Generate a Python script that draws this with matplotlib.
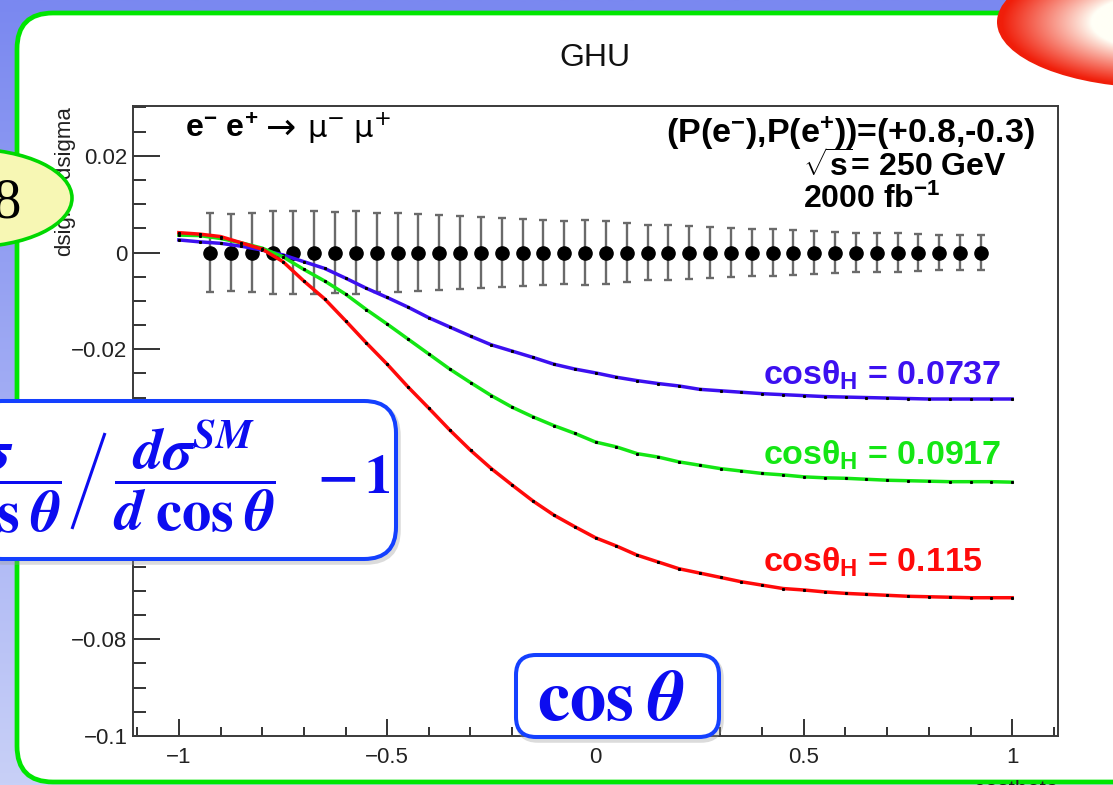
import numpy as np
import matplotlib
matplotlib.use('Agg')
import matplotlib.pyplot as plt
from matplotlib.patches import FancyBboxPatch, Ellipse
from matplotlib.ticker import MultipleLocator, FuncFormatter

plt.rcParams['font.family'] = ['Liberation Sans', 'DejaVu Sans']
plt.rcParams['mathtext.fontset'] = 'custom'
plt.rcParams['mathtext.rm'] = 'Liberation Sans:bold'
plt.rcParams['mathtext.it'] = 'Liberation Sans:bold'
plt.rcParams['mathtext.bf'] = 'Liberation Sans:bold'

# GHU predictions: (dsigma/dcos) / (dsigma^SM/dcos) - 1 on a cos(theta) grid
cos_grid = np.linspace(-1.0, 1.0, 41)
ghu_0737 = [0.0026, 0.0022, 0.0019, 0.0013, 0.0005, -0.0005, -0.0019, -0.0033, -0.0053, -0.0074,
            -0.0093, -0.0113, -0.0135, -0.0154, -0.0173, -0.0191, -0.0204, -0.0217, -0.0231, -0.0241,
            -0.0249, -0.0258, -0.0265, -0.0271, -0.0276, -0.0283, -0.0286, -0.0289, -0.0292, -0.0294,
            -0.0296, -0.0298, -0.0299, -0.0300, -0.0301, -0.0302, -0.0303, -0.0303, -0.0303, -0.0303,
            -0.0303]
ghu_0917 = [0.0036, 0.0035, 0.0029, 0.0020, 0.0009, -0.0009, -0.0035, -0.0059, -0.0086, -0.0118,
            -0.0148, -0.0179, -0.0210, -0.0241, -0.0269, -0.0296, -0.0320, -0.0340, -0.0358, -0.0374,
            -0.0392, -0.0402, -0.0416, -0.0423, -0.0433, -0.0440, -0.0447, -0.0452, -0.0457, -0.0460,
            -0.0464, -0.0466, -0.0467, -0.0469, -0.0471, -0.0472, -0.0473, -0.0474, -0.0474, -0.0474,
            -0.0475]
ghu_0115 = [0.0041, 0.0038, 0.0033, 0.0020, 0.0007, -0.0019, -0.0059, -0.0096, -0.0141, -0.0187,
            -0.0231, -0.0278, -0.0322, -0.0367, -0.0409, -0.0447, -0.0481, -0.0514, -0.0543, -0.0567,
            -0.0590, -0.0607, -0.0626, -0.0640, -0.0654, -0.0663, -0.0672, -0.0681, -0.0688, -0.0695,
            -0.0698, -0.0702, -0.0705, -0.0707, -0.0709, -0.0711, -0.0712, -0.0713, -0.0714, -0.0714,
            -0.0714]
curve_labels = ['0.0737', '0.0917', '0.115']

# SM pseudo-data with 2000 fb^-1 statistical errors
data_x = [-0.925, -0.875, -0.825, -0.775, -0.725, -0.675, -0.625, -0.575, -0.525, -0.475,
          -0.425, -0.375, -0.325, -0.275, -0.225, -0.175, -0.125, -0.075, -0.025, 0.025,
          0.075, 0.125, 0.175, 0.225, 0.275, 0.325, 0.375, 0.425, 0.475, 0.525,
          0.575, 0.625, 0.675, 0.725, 0.775, 0.825, 0.875, 0.925]
data_dev = [0.0] * len(data_x)
data_err = [0.0082, 0.0080, 0.0081, 0.0085, 0.0085, 0.0086, 0.0083, 0.0085, 0.0081, 0.0082,
            0.0080, 0.0078, 0.0076, 0.0074, 0.0072, 0.0069, 0.0067, 0.0066, 0.0067, 0.0066,
            0.0060, 0.0057, 0.0057, 0.0055, 0.0053, 0.0050, 0.0048, 0.0048, 0.0047, 0.0045,
            0.0043, 0.0041, 0.0041, 0.0040, 0.0038, 0.0036, 0.0036, 0.0036]

W, H = 1113, 785
fig = plt.figure(figsize=(W / 100, H / 100), dpi=100)


def pixel_axes(z):
    a = fig.add_axes([0, 0, 1, 1], zorder=z)
    a.set_xlim(0, W)
    a.set_ylim(H, 0)
    a.axis('off')
    return a


def rounded_box(a, x, y, w, h, rad, z):
    # soft grey shadow, then the white box with a blue rim
    a.add_patch(FancyBboxPatch((x + 2, y + 3), w, h, boxstyle=f'round,pad=0,rounding_size={rad}',
                               fc='none', ec='#9a9a9a', lw=4, alpha=0.35, zorder=z))
    a.add_patch(FancyBboxPatch((x, y), w, h, boxstyle=f'round,pad=0,rounding_size={rad}',
                               fc='white', ec='#1440ff', lw=2.9, zorder=z + 0.1))


# slide background and the white panel
bg = pixel_axes(0)
top = np.array([122, 136, 240]) / 255
bottom = np.array([200, 208, 247]) / 255
t = np.linspace(0, 1, 256)[:, None, None]
bg.imshow(top * (1 - t) + bottom * t, extent=(0, W, H, 0), aspect='auto', interpolation='bilinear')
bg.add_patch(FancyBboxPatch((17, 13), 1200, 769, boxstyle='round,pad=0,rounding_size=36',
                            fc='white', ec='#00e600', lw=3.4))
bg.set_xlim(0, W)
bg.set_ylim(H, 0)

# ROOT-style plot
ax = fig.add_axes([133 / W, 1 - 736 / H, (1058 - 133) / W, (736 - 106) / H], zorder=1)
ax.set_facecolor('white')
ax.set_xlim(-1.11, 1.11)
ax.set_ylim(-0.1, 0.0303)

colors = ['#3c10f0', '#14e614', '#ff0a0a']
for ys, c in zip([ghu_0737, ghu_0917, ghu_0115], colors):
    ax.plot(cos_grid, ys, color=c, lw=2.5, marker='s', ms=1.2, mfc='black', mec='black', zorder=4)

ax.errorbar(data_x, data_dev, yerr=data_err, fmt='o', color='black', ms=9.5,
            ecolor='#6a6a6a', elinewidth=1.7, capsize=2.6, capthick=1.7, zorder=3)

for sp in ax.spines.values():
    sp.set_linewidth(1.4)
    sp.set_color('#3a3a3a')


def root_fmt(v, _):
    v = round(v, 6)
    if v == 0:
        return '0'
    return f'{v:g}'.replace('-', '\u2212')


ax.xaxis.set_major_locator(MultipleLocator(0.5))
ax.xaxis.set_minor_locator(MultipleLocator(0.1))
ax.yaxis.set_major_locator(MultipleLocator(0.02))
ax.yaxis.set_minor_locator(MultipleLocator(0.005))
ax.xaxis.set_major_formatter(FuncFormatter(root_fmt))
ax.yaxis.set_major_formatter(FuncFormatter(root_fmt))
ax.tick_params(which='both', direction='in', top=False, right=False, colors='#333333',
               labelcolor='#222222', labelsize=16, width=1.4)
ax.tick_params(axis='y', which='major', length=19.5, pad=4)
ax.tick_params(axis='y', which='minor', length=9.5)
ax.tick_params(axis='x', which='major', length=12.5, pad=8)
ax.tick_params(axis='x', which='minor', length=6.5)

# overlay: texts, boxes and decorations in pixel coordinates
ov = pixel_axes(5)
ov.text(595, 66, 'GHU', ha='center', va='baseline', fontsize=23, color='#111111')
ov.text(65, 106, 'dsigma/dsigma', rotation=90, ha='center', va='top', fontsize=16, color='#222222')
ov.text(1058, 796, 'costheta', ha='right', va='baseline', fontsize=16, color='#222222')

# process label: e- e+ -> mu- mu+
ov.text(185, 138, r'e$^{-}$ e$^{+}$', fontsize=23, fontweight='bold', va='baseline')
ov.text(266, 139, '\u2192', family='DejaVu Sans', fontsize=26, va='baseline')
ov.text(307, 138, r'$\mathrm{\mu}^{-}$ $\mathrm{\mu}^{+}$', math_fontfamily='dejavusans',
        fontsize=22, va='baseline')

ov.text(1035, 143, r'(P(e$^{-}$),P(e$^{+}$))=(+0.8,-0.3)', fontsize=24.5, fontweight='bold',
        ha='right', va='baseline')
ov.text(803, 177, r'$\sqrt{s}$= 250 GeV', fontsize=23, fontweight='bold', va='baseline')
ov.text(803, 208, r'2000 fb$^{-1}$', fontsize=23, fontweight='bold', va='baseline')

for lab, c, yb in zip(curve_labels, colors, [385, 465, 572]):
    ov.text(763, yb, r'cos$\theta_{H}$ = ' + lab, color=c, fontsize=24.5, fontweight='bold',
            va='baseline')

# red ellipse with a radial gradient, top right
ell = Ellipse((1160, 22), 326, 132, fc='none', ec='none')
ov.add_patch(ell)
gx, gy = np.meshgrid(np.linspace(990, 1113, 160), np.linspace(0, 100, 130))
r = np.hypot((gx - 1160) / 163, (gy - 22) / 66)
mix = np.clip((r - 0.42) / 0.55, 0, 1)[..., None] ** 0.9
red = np.array([240, 30, 10]) / 255
white = np.array([255, 255, 246]) / 255
im = ov.imshow(white * (1 - mix) + red * mix, extent=(990, 1113, 100, 0), aspect='auto',
               interpolation='bilinear', zorder=2)
im.set_clip_path(ell)

# yellow bubble with the slide number
ov.add_patch(Ellipse((-30, 198), 204, 98, fc='#f7f7b4', ec='#00d800', lw=2.6, zorder=3))
ov.text(21, 217, '8', family='Liberation Serif', fontsize=41, ha='right', va='baseline', zorder=4)

# formula box: (dsigma/dcos) / (dsigma^SM/dcos) - 1
blue_text = '#0c0cf0'
rounded_box(ov, -30, 401, 426, 158, 32, 3)
dcos = r'\boldsymbol{d}\;\mathbf{cos}\;\boldsymbol{\theta}'
ov.text(62, 493, r'$\dfrac{\boldsymbol{d\sigma}}{' + dcos + '}$', math_fontfamily='stix',
        fontsize=42, color=blue_text, ha='right', va='baseline', zorder=4)
ov.plot([72, 105], [529, 433], color=blue_text, lw=2.2, solid_capstyle='butt', zorder=4)
ov.text(113, 493, r'$\dfrac{\boldsymbol{d\sigma}^{\boldsymbol{SM}}}{' + dcos + '}$',
        math_fontfamily='stix', fontsize=42, color=blue_text, ha='left', va='baseline', zorder=4)
ov.text(390, 493, r'$\mathbf{-}\,\mathbf{1}$', math_fontfamily='stix', fontsize=39,
        color=blue_text, ha='right', va='baseline', zorder=4)

# x-axis variable box
rounded_box(ov, 516, 655, 203, 82, 20, 3)
ov.text(611, 720, r'$\mathbf{cos}\;\boldsymbol{\theta}$', math_fontfamily='stix', fontsize=52,
        color=blue_text, ha='center', va='baseline', zorder=4)

fig.savefig('out.png', dpi=100)
